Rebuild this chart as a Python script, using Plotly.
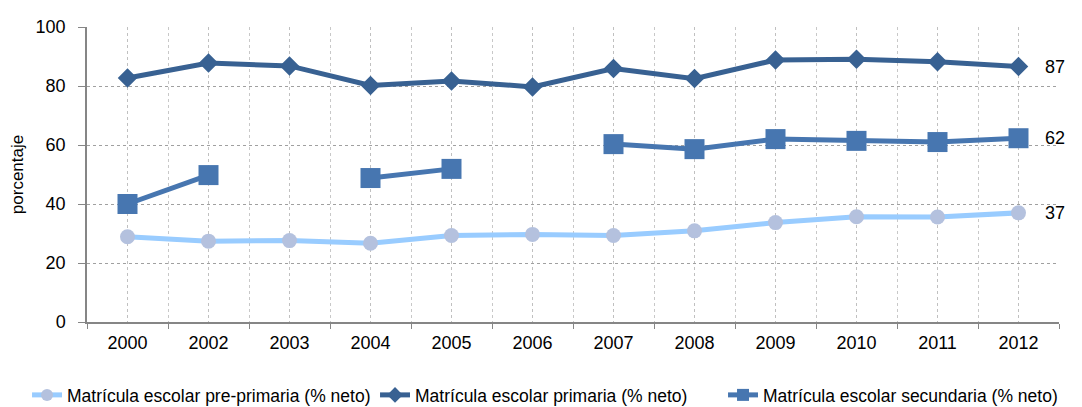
import plotly.graph_objects as go

years = ["2000", "2002", "2003", "2004", "2005", "2006", "2007", "2008", "2009", "2010", "2011", "2012"]
pre_primaria = [28.9, 27.4, 27.6, 26.7, 29.3, 29.7, 29.3, 30.9, 33.7, 35.7, 35.6, 37.0]
primaria = [82.7, 87.8, 86.8, 80.2, 81.7, 79.7, 85.9, 82.5, 88.8, 89.1, 88.2, 86.6]
secundaria = [40.0, 49.8, None, 48.8, 51.9, None, 60.3, 58.6, 62.0, 61.4, 61.0, 62.3]
end_labels = ["37", "87", "62"]
names = ["Matrícula escolar pre-primaria (% neto)",
         "Matrícula escolar primaria (% neto)",
         "Matrícula escolar secundaria (% neto)"]

FONT = "Liberation Sans, Arial, sans-serif"

fig = go.Figure()
fig.add_trace(go.Scatter(
    x=years, y=pre_primaria, name=names[0], mode="lines+markers",
    line=dict(color="#99CCFF", width=5),
    marker=dict(symbol="circle", size=15, color="#B4C1DE", line=dict(width=0))))
fig.add_trace(go.Scatter(
    x=years, y=primaria, name=names[1], mode="lines+markers",
    line=dict(color="#386192", width=5),
    marker=dict(symbol="diamond", size=15, color="#386192", line=dict(width=0))))
fig.add_trace(go.Scatter(
    x=years, y=secundaria, name=names[2], mode="lines+markers",
    line=dict(color="#4776B0", width=5), connectgaps=False,
    marker=dict(symbol="square", size=20, color="#4776B0", line=dict(width=0))))
# invisible helper trace so the boundary-gridline axis has the categories
fig.add_trace(go.Scatter(x=years, y=primaria, xaxis="x2", mode="markers",
                         marker=dict(opacity=0), showlegend=False, hoverinfo="skip"))

last_index = len(years) - 1
for series, label in zip([pre_primaria, primaria, secundaria], end_labels):
    fig.add_annotation(x=last_index, y=series[-1], xref="x", yref="y", text=label,
                       showarrow=False, xanchor="left", yanchor="middle", xshift=24,
                       font=dict(size=18, color="#000000", family=FONT))

# the page body has an 8px margin, so the figure is 8px smaller than the window
fig.update_layout(
    width=1074, height=399,
    margin=dict(l=79, r=23, t=19, b=85, autoexpand=False),
    paper_bgcolor="white", plot_bgcolor="white",
    font=dict(family=FONT, size=18, color="#000000"),
    showlegend=True,
    legend=dict(orientation="h", xref="paper", yref="paper",
                x=-0.0617, xanchor="left", y=-0.2475, yanchor="middle",
                font=dict(size=17.5, family=FONT), itemsizing="constant",
                entrywidth=303, entrywidthmode="pixels", tracegroupgap=0),
    xaxis=dict(type="category", categoryorder="array", categoryarray=years,
               range=[-0.5, len(years) - 0.5],
               showgrid=True, gridcolor="#C0C0C0", griddash="dot", gridwidth=1,
               showline=False, ticks="outside", ticklen=4, tickcolor="rgba(0,0,0,0)",
               tickfont=dict(size=18), zeroline=False),
    xaxis2=dict(type="category", categoryorder="array", categoryarray=years,
                range=[-0.5, len(years) - 0.5], overlaying="x", side="bottom",
                anchor="y", tickson="boundaries", showticklabels=False,
                showgrid=True, gridcolor="#C8C8C8", griddash="dot", gridwidth=1,
                showline=True, linecolor="#868686", linewidth=1.5,
                ticks="outside", ticklen=5, tickcolor="#868686"),
    yaxis=dict(range=[0, 100], dtick=20, showgrid=True, gridcolor="#A0A0A0",
               griddash="dot", gridwidth=1, showline=True, linecolor="#868686",
               linewidth=1.5, ticks="outside", ticklen=7, tickcolor="#868686",
               ticklabelstandoff=9,
               zeroline=False, tickfont=dict(size=18),
               title=dict(text="porcentaje", font=dict(size=17), standoff=17)),
)

fig.write_html("out.html")
